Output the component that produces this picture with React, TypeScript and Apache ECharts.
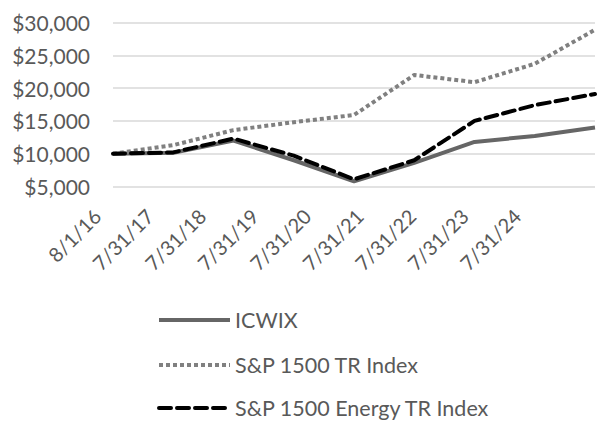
import React, { useEffect, useRef } from "react";
import * as echarts from "echarts";

const categories = ["8/1/16", "7/31/17", "7/31/18", "7/31/19", "7/31/20", "7/31/21", "7/31/22", "7/31/23", "7/31/24"];
const icwix = [10000, 10150, 12000, 9000, 5800, 8600, 11800, 12700, 14000];
const sp1500 = [10000, 11300, 13600, 14800, 15900, 22000, 20900, 23700, 28900];
const energy = [10000, 10200, 12300, 9700, 6100, 9000, 15000, 17400, 19100];
const seriesNames = ["ICWIX", "S&P 1500 TR Index", "S&P 1500 Energy TR Index"];
const legendTops = [304, 349, 392];

const FONT = "Lato";
const TXT = "#595959";

export default function App() {
  const ref = useRef<HTMLDivElement>(null);
  useEffect(() => {
    const chart = echarts.init(ref.current!, undefined, { renderer: "svg" });
    chart.setOption({
      animation: false,
      grid: [
        { left: 113, right: 5, top: 22.5, height: 164 },
        { left: 97, width: 420, top: 22.5, height: 164 },
      ],
      xAxis: [
        {
          type: "category",
          data: categories,
          boundaryGap: false,
          gridIndex: 0,
          axisLine: { show: false },
          axisTick: { show: false },
          axisLabel: { show: false },
        },
        {
          type: "category",
          data: categories,
          boundaryGap: false,
          gridIndex: 1,
          axisLine: { show: false },
          axisTick: { show: false },
          splitLine: { show: false },
          axisLabel: {
            rotate: 45,
            interval: 0,
            margin: 26,
            color: TXT,
            fontFamily: FONT,
            fontSize: 20,
          },
        },
      ],
      yAxis: [
        {
          type: "value",
          gridIndex: 0,
          min: 5000,
          max: 30000,
          interval: 5000,
          axisLine: { show: false },
          axisTick: { show: false },
          splitLine: { lineStyle: { color: "#d9d9d9", width: 1.5 } },
          axisLabel: {
            margin: 23,
            color: TXT,
            fontFamily: FONT,
            fontSize: 21,
            formatter: (v: number) => "$" + v.toLocaleString("en-US"),
          },
        },
        {
          type: "value",
          gridIndex: 1,
          show: false,
        },
      ],
      legend: seriesNames.map((name, i) => ({
        orient: "vertical",
        left: 152,
        top: legendTops[i],
        itemWidth: 71,
        itemHeight: 16,
        itemStyle: { opacity: 0 },
        lineStyle: { width: 4 },
        textStyle: { color: TXT, fontFamily: FONT, fontSize: 21.5 },
        data: [name],
      })),
      series: [
        {
          name: seriesNames[0],
          type: "line",
          data: icwix,
          symbol: "none",
          lineStyle: { color: "#666666", width: 4, type: "solid" },
          itemStyle: { color: "#666666" },
          z: 2,
        },
        {
          name: seriesNames[1],
          type: "line",
          data: sp1500,
          symbol: "none",
          lineStyle: { color: "#808080", width: 4, type: [4, 3] },
          itemStyle: { color: "#808080" },
          z: 3,
        },
        {
          name: seriesNames[2],
          type: "line",
          data: energy,
          symbol: "none",
          lineStyle: { color: "#000000", width: 4, type: [12, 6], cap: "round" },
          itemStyle: { color: "#000000" },
          z: 4,
        },
      ],
    });
    return () => chart.dispose();
  }, []);
  return <div ref={ref} style={{ width: 600, height: 421, position: "absolute", left: 0, top: 0 }} />;
}
